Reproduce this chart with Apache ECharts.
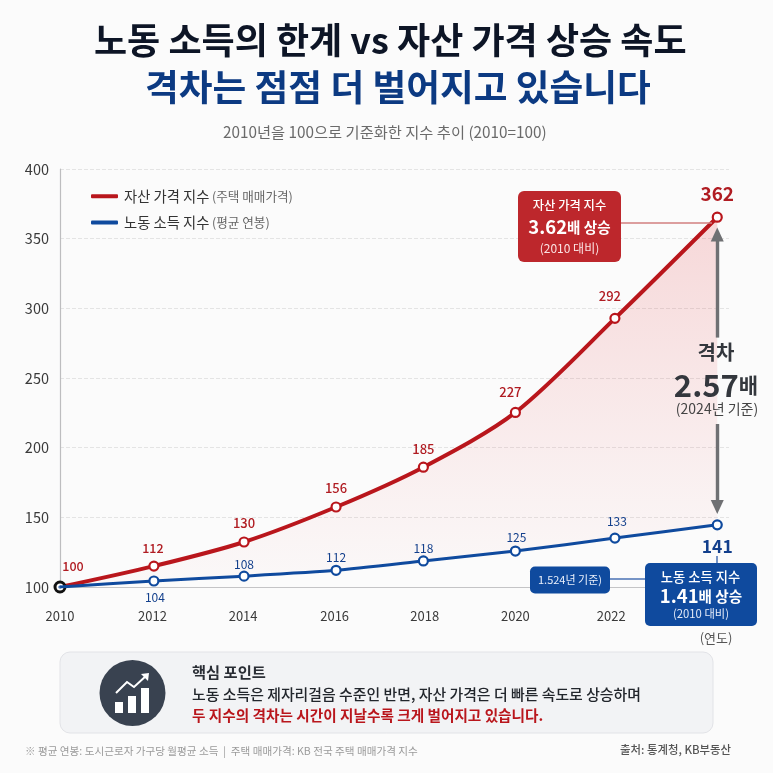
<!DOCTYPE html>
<html><head><meta charset="utf-8">
<style>html,body{margin:0;padding:0;background:#fbfbfb}#c{width:773px;height:773px}</style>
<script src="https://cdn.jsdelivr.net/npm/echarts@6/dist/echarts.min.js"></script>
</head><body><div id="c"></div>
<script>
var yearsPlotted = [2010, 2012.0, 2013.92, 2015.88, 2017.74, 2019.70, 2021.82, 2024];
var yearTicks = [2010, 2011.97, 2013.9, 2015.85, 2017.77, 2019.7, 2021.74];
var assetValues = [100, 115, 132.3, 157.4, 186, 225.3, 292.8, 365.4];
var laborValues = [100, 104.3, 107.8, 112, 118.7, 125.8, 135.1, 144.6];
var assetPrinted = ['100', '112', '130', '156', '185', '227', '292', '362'];
var laborPrinted = ['', '104', '108', '112', '118', '125', '133', '141'];
var gapArrowUpper = [279, 353];
var gapArrowLower = [217, 157.5];
var assetName = '자산 가격 지수', laborName = '노동 소득 지수';
var assetOffsets = [[13,-21],[-1,-18],[0,-19],[0,-19],[0,-18],[-5,-20],[-5,-22],[0,-23]];
var laborOffsets = [[0,0],[1,16],[0,-12],[0,-13],[0,-13],[1,-14],[2,-17],[0,21]];
var RED = '#b9161c', BLUE = '#0f4a9e', FONT = '"Noto Sans CJK KR","Noto Sans",sans-serif';

function pts(xs, ys) { return xs.map(function (x, i) { return [x, ys[i]]; }); }
function assetData() {
  return pts(yearsPlotted, assetValues).map(function (p, i) {
    var last = i === 7, first = i === 0;
    return { value: p,
      itemStyle: first ? { borderColor: '#111', color: '#fff', borderWidth: 3 } : undefined,
      symbolSize: first ? 10 : 9,
      label: { show: true, position: 'inside', align: 'center', verticalAlign: 'middle', offset: assetOffsets[i],
        formatter: assetPrinted[i], color: '#b01c22', fontFamily: FONT,
        fontSize: last ? 19 : (i === 0 || i === 1 ? 12.5 : 13), fontWeight: last ? 700 : 500 } };
  });
}
function laborData() {
  return pts(yearsPlotted, laborValues).map(function (p, i) {
    var last = i === 7;
    return { value: p, symbolSize: i === 0 ? 1 : 9,
      label: { show: i > 0, position: 'inside', align: 'center', verticalAlign: 'middle', offset: laborOffsets[i],
        formatter: laborPrinted[i], color: '#123f8c', fontFamily: FONT,
        fontSize: last ? 17.5 : 12, fontWeight: last ? 700 : 400 } };
  });
}
function T(x, y, text, size, color, weight, align, extra) {
  return { type: 'text', x: x, y: y, z: 20, style: Object.assign({ text: text, fontSize: size, fill: color,
    fontWeight: weight || 400, fontFamily: FONT, align: align || 'center', verticalAlign: 'middle' }, extra || {}) };
}
function R(x, y, w, h, r, fill, stroke, z) {
  return { type: 'rect', z: z || 15, shape: { x: x, y: y, width: w, height: h, r: r },
    style: { fill: fill, stroke: stroke || null, lineWidth: stroke ? 1 : 0 } };
}
function L(x1, y1, x2, y2, color, lw) {
  return { type: 'line', z: 14, shape: { x1: x1, y1: y1, x2: x2, y2: y2 }, style: { stroke: color, lineWidth: lw || 1.5 } };
}
var richGap = { a: { fontSize: 31, fontWeight: 700, fill: '#33373d', fontFamily: FONT }, b: { fontSize: 21, fontWeight: 700, fill: '#33373d', fontFamily: FONT } };

var chart = echarts.init(document.getElementById('c'), null, { renderer: 'canvas' });
chart.setOption({
  backgroundColor: '#fbfbfb',
  animation: false,
  textStyle: { fontFamily: FONT },
  title: [
    { text: '노동 소득의 한계 vs 자산 가격 상승 속도', left: 89, top: 17, textStyle: { fontSize: 36, fontWeight: 700, color: '#0d1526', fontFamily: FONT } },
    { text: '격차는 점점 더 벌어지고 있습니다', left: 140, top: 64, textStyle: { fontSize: 36.7, fontWeight: 700, color: '#0c3a82', fontFamily: FONT } },
    { text: '2010년을 100으로 기준화한 지수 추이 (2010=100)', left: 218, top: 120, textStyle: { fontSize: 15.3, fontWeight: 400, color: '#6a6a6a', fontFamily: FONT } }
  ],
  legend: {
    left: 86, top: 184, orient: 'vertical', itemGap: 12, itemWidth: 27, itemHeight: 4, icon: 'roundRect',
    data: [{ name: assetName, itemStyle: { color: RED, borderWidth: 0 } }, { name: laborName, itemStyle: { color: BLUE, borderWidth: 0 } }],
    formatter: function (n) { return n === assetName ? '{a|' + n + '} {b|(주택 매매가격)}' : '{a|' + n + '} {b|(평균 연봉)}'; },
    textStyle: { padding: [0, 0, 0, 1], rich: { a: { fontSize: 14.3, color: '#333', fontFamily: FONT }, b: { fontSize: 12.6, color: '#666', fontFamily: FONT } } }
  },
  grid: { left: 60, right: 44, top: 169, bottom: 186 },
  xAxis: {
    type: 'value', min: 2010, max: 2024.25,
    axisLine: { show: true, lineStyle: { color: '#c4c4c6', width: 1.2 } },
    axisTick: { show: false }, splitLine: { show: false },
    axisLabel: { customValues: yearTicks, margin: 23, fontSize: 13, color: '#3a3a3a', fontFamily: FONT,
      formatter: function (v) { return String(Math.round(v / 2) * 2); } }
  },
  yAxis: {
    type: 'value', min: 100, max: 400, interval: 50,
    axisLine: { show: true, lineStyle: { color: '#bdbdbf', width: 1.2 } },
    axisTick: { show: false },
    splitLine: { lineStyle: { color: '#e4e4e4', type: 'dashed', width: 1 } },
    axisLabel: { margin: 11, fontSize: 14.5, color: '#3a3a3a', fontFamily: FONT }
  },
  series: [
    { name: assetName, type: 'line', z: 3, smooth: 0.3, data: assetData(), symbol: 'circle',
      color: RED, lineStyle: { color: RED, width: 4 },
      itemStyle: { color: '#fff', borderColor: RED, borderWidth: 2.2 },
      areaStyle: { color: { type: 'linear', x: 0, y: 0, x2: 0, y2: 1, colorStops: [
        { offset: 0, color: 'rgba(225,55,60,0.26)' }, { offset: 0.75, color: 'rgba(225,55,60,0.07)' }, { offset: 1, color: 'rgba(225,55,60,0.02)' } ] } },
      markLine: { silent: true, symbol: ['none', 'triangle'], symbolSize: [13, 14], animation: false,
        lineStyle: { color: '#6f7073', width: 3.4, type: 'solid' }, label: { show: false },
        data: [
          [{ coord: [2024, gapArrowUpper[0]] }, { coord: [2024, gapArrowUpper[1]] }],
          [{ coord: [2024, gapArrowLower[0]] }, { coord: [2024, gapArrowLower[1]] }]
        ] } },
    { name: laborName, type: 'line', z: 4, smooth: 0.2, data: laborData(), symbol: 'circle',
      color: BLUE, lineStyle: { color: BLUE, width: 3 },
      itemStyle: { color: '#fff', borderColor: BLUE, borderWidth: 2.2 },
      areaStyle: { color: '#fbfbfb', opacity: 1 } }
  ],
  graphic: [
    L(620, 223, 712, 223, '#d27f7f'),
    R(518, 191, 103, 71, 6, '#bd272c'),
    T(569.5, 205, '자산 가격 지수', 12.3, '#fff', 500),
    { type: 'text', x: 569.5, y: 227, z: 20, style: { text: '{a|3.62}{b|배 상승}', align: 'center', verticalAlign: 'middle', fill: '#fff', fontFamily: FONT,
      rich: { a: { fontSize: 18.5, fontWeight: 700, fill: '#fff', fontFamily: FONT }, b: { fontSize: 14.6, fontWeight: 700, fill: '#fff', fontFamily: FONT } } } },
    T(569.5, 248, '(2010 대비)', 12, '#fbe4e4'),
    T(716, 352, '격차', 20, '#33373d', 700),
    { type: 'text', x: 716, y: 385, z: 20, style: { text: '{a|2.57}{b|배}', align: 'center', verticalAlign: 'middle', fontFamily: FONT, rich: richGap } },
    T(717, 409, '(2024년 기준)', 14, '#444'),
    L(717, 556, 717, 563, '#4a72b5'),
    L(610, 579, 645, 579, '#4a72b5'),
    R(530, 566.5, 80, 27, 5, BLUE),
    T(570, 580, '1.524년 기준)', 11, '#eaf0fb'),
    R(645, 563, 112, 63, 5, BLUE),
    T(700.5, 577, '노동 소득 지수', 13.3, '#fff', 500),
    { type: 'text', x: 701, y: 596, z: 20, style: { text: '{a|1.41}{b|배 상승}', align: 'center', verticalAlign: 'middle', fontFamily: FONT,
      rich: { a: { fontSize: 18.5, fontWeight: 700, fill: '#fff', fontFamily: FONT }, b: { fontSize: 14.6, fontWeight: 700, fill: '#fff', fontFamily: FONT } } } },
    T(701, 614, '(2010 대비)', 11.3, '#e4ebf8'),
    T(716, 638, '(연도)', 13, '#555'),
    R(60, 652, 653, 81, 10, '#f2f3f5', '#e2e3e7', 10),
    { type: 'circle', z: 15, shape: { cx: 132.5, cy: 693, r: 33 }, style: { fill: '#394250' } },
    R(115, 702, 8, 11, 0, '#fff'), R(128, 696, 8, 17, 0, '#fff'), R(141, 688, 8, 25, 0, '#fff'),
    { type: 'polyline', z: 16, shape: { points: [[116, 693], [127, 682], [134, 687], [147, 675]] }, style: { stroke: '#fff', lineWidth: 2, fill: null } },
    { type: 'polygon', z: 16, shape: { points: [[149, 673], [141, 674], [148, 681]] }, style: { fill: '#fff' } },
    T(192, 672, '핵심 포인트', 15.3, '#2a2e35', 700, 'left'),
    T(192, 694, '노동 소득은 제자리걸음 수준인 반면, 자산 가격은 더 빠른 속도로 상승하며', 14.9, '#22262c', 500, 'left'),
    T(192, 715, '두 지수의 격차는 시간이 지날수록 크게 벌어지고 있습니다.', 14.65, '#b9161c', 700, 'left'),
    T(25, 751, '※ 평균 연봉: 도시근로자 가구당 월평균 소득  |  주택 매매가격: KB 전국 주택 매매가격 지수', 10.6, '#9a9a9a', 400, 'left'),
    T(731, 750, '출처: 통계청, KB부동산', 11.4, '#555', 500, 'right')
  ]
});
</script></body></html>
